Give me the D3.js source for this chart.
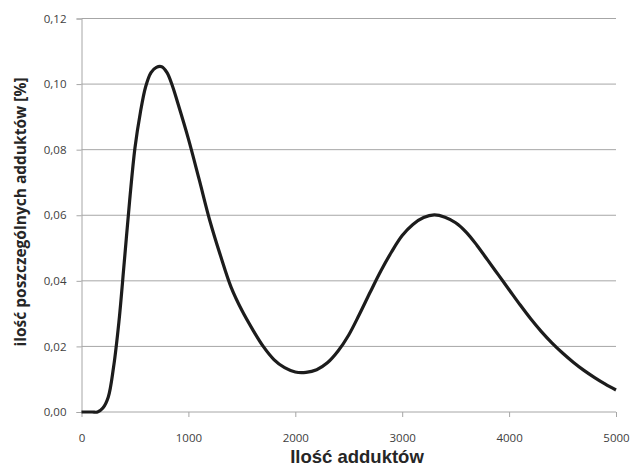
<!DOCTYPE html>
<html>
<head>
<meta charset="utf-8">
<title>Ilość adduktów</title>
<style>
    body { margin: 0; background: #fff; }
    svg { display: block; }
    .tick text { font-family: "Open Sans", "Liberation Sans", sans-serif; font-size: 11.5px; fill: #404040; }
</style>
</head>
<body>
<svg width="633" height="468"></svg>
<script src="https://d3js.org/d3.v7.min.js"></script>
<script>
    // values
    var adducts = [0, 100, 150, 200, 250, 300, 350, 400, 450, 500, 550, 600, 650, 700, 750, 800, 850, 900, 1000,
        1100, 1200, 1300, 1400, 1500, 1600, 1700, 1800, 1900, 2000, 2100, 2200, 2300, 2400, 2500, 2600, 2700,
        2800, 2900, 3000, 3100, 3200, 3300, 3400, 3500, 3600, 3700, 3800, 3900, 4000, 4100, 4200, 4300, 4400,
        4500, 4600, 4700, 4800, 4900, 5000];
    var share = [0, 0, 0, 0.0012, 0.0045, 0.0137, 0.0275, 0.0457, 0.0643, 0.0805, 0.0912, 0.0992, 0.1035, 0.1051,
        0.1053, 0.1035, 0.0995, 0.0943, 0.0833,
        0.071, 0.0584, 0.0477, 0.038, 0.031, 0.0252, 0.02, 0.016, 0.0135, 0.0122, 0.0121, 0.0129, 0.015,
        0.0186, 0.0235, 0.0298, 0.0365,
        0.043, 0.0488, 0.0538, 0.0572, 0.0593, 0.0601, 0.0594, 0.0577, 0.0548, 0.0508, 0.0463, 0.0418, 0.0373,
        0.0328, 0.0285, 0.0246, 0.0211,
        0.018, 0.0152, 0.0127, 0.0105, 0.0085, 0.0067];
    var xTicks = [0, 1000, 2000, 3000, 4000, 5000];
    var yTicks = [0, 0.02, 0.04, 0.06, 0.08, 0.10, 0.12];

    var svg = d3.select("svg");
    var margin = {left: 81.5, right: 17, top: 18.5, bottom: 56};
    var width = 633 - margin.left - margin.right,
        height = 468 - margin.top - margin.bottom;

    var x = d3.scaleLinear().domain([0, 5000]).range([0, width]);
    var y = d3.scaleLinear().domain([0, 0.12]).range([height, 0]);
    var fmt = function(d) { return d3.format(".2f")(d).replace(".", ","); };

    var g = svg.append("g").attr("transform", "translate(" + margin.left + "," + margin.top + ")");

    // horizontal gridlines
    g.append("g").selectAll("line")
        .data(yTicks)
        .enter().append("line")
        .attr("x1", 0).attr("x2", width)
        .attr("y1", function(d) { return y(d); })
        .attr("y2", function(d) { return y(d); })
        .attr("stroke", "#a6a6a6")
        .attr("stroke-width", 1);

    var yAxis = g.append("g")
        .call(d3.axisLeft(y).tickValues(yTicks).tickFormat(fmt).tickSize(5).tickPadding(10));
    var xAxis = g.append("g")
        .attr("transform", "translate(0," + height + ")")
        .call(d3.axisBottom(x).tickValues(xTicks).tickFormat(d3.format("d")).tickSize(5).tickPadding(17));
    svg.selectAll(".domain").attr("stroke", "#a6a6a6");
    svg.selectAll(".tick line").attr("stroke", "#a6a6a6");
    xAxis.select(".domain").remove();

    var line = d3.line()
        .x(function(d, i) { return x(adducts[i]); })
        .y(function(d) { return y(d); })
        .curve(d3.curveCatmullRom.alpha(0.5));

    g.append("path")
        .datum(share)
        .attr("d", line)
        .attr("fill", "none")
        .attr("stroke", "#1c1c1c")
        .attr("stroke-width", 3.2)
        .attr("stroke-linejoin", "round");

    // axis titles
    svg.append("text")
        .attr("x", 357)
        .attr("y", 463)
        .attr("text-anchor", "middle")
        .style("font-family", "'Liberation Sans', Arial, sans-serif")
        .style("font-weight", "bold")
        .style("font-size", "18.5px")
        .style("fill", "#262626")
        .text("Ilość adduktów");

    svg.append("text")
        .attr("transform", "translate(26,212) rotate(-90)")
        .attr("text-anchor", "middle")
        .style("font-family", "'Open Sans', sans-serif")
        .style("font-weight", "bold")
        .style("font-size", "15.5px")
        .style("fill", "#262626")
        .text("ilość poszczególnych adduktów [%]");
</script>
</body>
</html>
